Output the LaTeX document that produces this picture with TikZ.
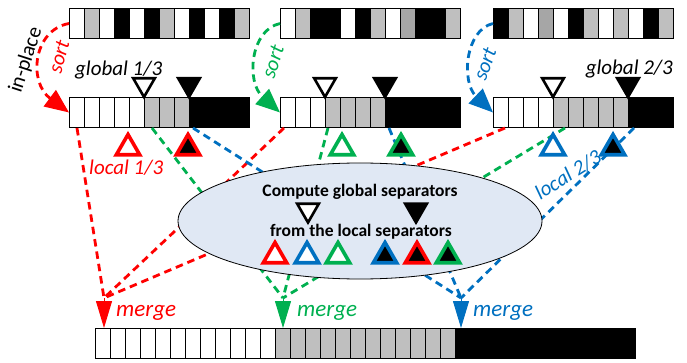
\documentclass[tikz,border=0pt]{standalone}
\usepackage{fontspec}
\setmainfont{Carlito}
\usetikzlibrary{shapes.geometric,arrows.meta}

\definecolor{cred}{RGB}{255,0,0}
\definecolor{cgreen}{RGB}{0,176,80}
\definecolor{cblue}{RGB}{0,112,192}
\definecolor{W}{RGB}{255,255,255}
\definecolor{G}{RGB}{191,191,191}
\definecolor{D}{RGB}{166,166,166}
\definecolor{K}{RGB}{0,0,0}
\definecolor{efill}{RGB}{224,232,244}

\tikzstyle{arr} = [draw, line width=1pt, minimum width=180pt, minimum height=30pt, inner sep=0pt, anchor=north west]
\tikzstyle{link} = [line width=2.8pt, dash pattern=on 7.5pt off 5pt]
\tikzstyle{sortarrow} = [link, -{Triangle[length=24pt,width=20pt]}]
\tikzstyle{mergearrow} = [line width=1pt, -{Triangle[length=27pt,width=16pt]}]
\tikzstyle{glob} = [regular polygon, regular polygon sides=3, shape border rotate=180, draw=black, line width=2.6pt, minimum size=25pt, inner sep=0pt, outer sep=0pt]
\tikzstyle{loc} = [regular polygon, regular polygon sides=3, line width=3.6pt, minimum size=27pt, inner sep=0pt, outer sep=0pt]
\tikzstyle{lab} = [font=\itshape\fontsize{21}{21}\selectfont, inner sep=0pt]
\tikzstyle{mlab} = [font=\itshape\fontsize{23}{23}\selectfont, inner sep=0pt, anchor=west]
\tikzstyle{btxt} = [font=\bfseries\fontsize{17.5}{17.5}\selectfont, inner sep=0pt]

% one row of 15pt cells
\newcommand{\cellrow}[3]{%
  \foreach \c [count=\i from 0] in {#3}
    \draw [fill=\c, line width=0.6pt] (#1+15*\i, #2) rectangle ++(15,30);
}

\begin{document}
\begin{tikzpicture}[x=1pt, y=-1pt]
  \useasboundingbox (0,0) rectangle (687,363);

  % arrays
  \cellrow{69}{8}{W,G,W,K,W,K,G,W,K,W,K,G}
  \cellrow{280}{8}{W,G,K,K,W,K,G,W,D,K,K,G}
  \cellrow{493}{8}{K,G,W,D,W,K,G,W,G,W,K,G}
  \cellrow{69}{97}{W,W,W,W,W,G,G,G,K,K,K,K}
  \cellrow{280}{97}{W,W,W,G,G,G,G,K,K,K,K,K}
  \cellrow{493}{97}{W,W,W,W,G,G,G,G,G,K,K,K}
  \cellrow{95}{328}{W,W,W,W,W,W,W,W,W,W,W,W,G,G,G,G,G,G,G,G,G,G,G,G,K,K,K,K,K,K,K,K,K,K,K,K}
  \node (ta) at (69,8) [arr] {};
  \node (tb) at (280,8) [arr] {};
  \node (tc) at (493,8) [arr] {};
  \node (sa) at (69,97) [arr] {};
  \node (sb) at (280,97) [arr] {};
  \node (sc) at (493,97) [arr] {};
  \node (out) at (95,328) [arr, minimum width=540pt] {};

  % sorting
  \draw [sortarrow, cred] (ta.west) .. controls (33,30) and (28,82) .. (sa.west);
  \draw [sortarrow, cgreen] (tb.west) .. controls (250,30) and (246,82) .. (sb.west);
  \draw [sortarrow, cblue] (tc.west) .. controls (465,30) and (461,82) .. (sc.west);

  % data flows to the merges
  \coordinate (ra) at (77,128);  \coordinate (ga) at (152,128); \coordinate (ba) at (193,128);
  \coordinate (rb) at (284,128); \coordinate (gb) at (328,128); \coordinate (bb) at (389,128);
  \coordinate (rc) at (505,128); \coordinate (gc) at (565,128); \coordinate (bc) at (634,128);
  \coordinate (mr) at (104,298);
  \coordinate (mg) at (283,298);
  \coordinate (mb) at (461,298);

  \draw [link, cred] (ra) -- (mr);
  \draw [link, cred] (rb) -- (mr);
  \draw [link, cred] (rc) -- (mr);
  \draw [link, cgreen] (ga) -- (mg);
  \draw [link, cgreen] (gb) -- (mg);
  \draw [link, cgreen] (gc) -- (mg);
  \draw [link, cblue] (ba) -- (mb);
  \draw [link, cblue] (bb) -- (mb);
  \draw [link, cblue] (bc) -- (mb);

  \draw [mergearrow, cred] (mr) -- (mr |- out.north);
  \draw [mergearrow, cgreen] (mg) -- (mg |- out.north);
  \draw [mergearrow, cblue] (mb) -- (mb |- out.north);

  % global separators
  \node (gs) at (360,221) [ellipse, draw=black, line width=0.8pt, fill=efill, minimum width=364pt, minimum height=116pt, inner sep=0pt] {};
  \node (t1) at (360,192) [btxt] {Compute global separators};
  \node (t2) at (361,232) [btxt] {from the local separators};

  \node (ga1) at (144,84.5) [glob, fill=white] {};
  \node (ga2) at (189,84.5) [glob, fill=black] {};
  \node (gb1) at (325,84.5) [glob, fill=white] {};
  \node (gb2) at (385,84.5) [glob, fill=black] {};
  \node (gc1) at (553,84.5) [glob, fill=white] {};
  \node (gc2) at (628,84.5) [glob, fill=black] {};
  \node (ge1) at (308,210) [glob, fill=white] {};
  \node (ge2) at (416,210) [glob, fill=black] {};

  % local separators
  \node (la1) at (128,148) [loc, draw=cred, fill=white] {};
  \node (la2) at (188,148) [loc, draw=cred, fill=black] {};
  \node (lb1) at (342,148) [loc, draw=cgreen, fill=white] {};
  \node (lb2) at (401,148) [loc, draw=cgreen, fill=black] {};
  \node (lc1) at (553,148) [loc, draw=cblue, fill=white] {};
  \node (lc2) at (613,148) [loc, draw=cblue, fill=black] {};
  \node (le1) at (275,256) [loc, draw=cred, fill=white] {};
  \node (le2) at (307,256) [loc, draw=cblue, fill=white] {};
  \node (le3) at (338,256) [loc, draw=cgreen, fill=white] {};
  \node (le4) at (385,256) [loc, draw=cblue, fill=black] {};
  \node (le5) at (417,256) [loc, draw=cred, fill=black] {};
  \node (le6) at (448,256) [loc, draw=cgreen, fill=black] {};

  % labels
  \node (g13) at (75,70) [lab, anchor=west] {global 1/3};
  \node (g23) at (673,69) [lab, anchor=east] {global 2/3};
  \node (l13) at (89,168) [lab, anchor=west, text=cred] {local 1/3};
  \node (l23) at (568,175) [lab, rotate=32, text=cblue] {local 2/3};
  \node (ip) at (26,60) [font=\fontsize{21}{21}\selectfont, inner sep=0pt, rotate=72] {in-place};
  \node (s1) at (59,57) [lab, rotate=75, text=cred] {sort};
  \node (s2) at (273,62) [lab, rotate=72, text=cgreen] {sort};
  \node (s3) at (485,64) [lab, rotate=70, text=cblue] {sort};
  \node (m1) at (116,313) [mlab, text=cred] {merge};
  \node (m2) at (297,313) [mlab, text=cgreen] {merge};
  \node (m3) at (473,313) [mlab, text=cblue] {merge};
\end{tikzpicture}
\end{document}
